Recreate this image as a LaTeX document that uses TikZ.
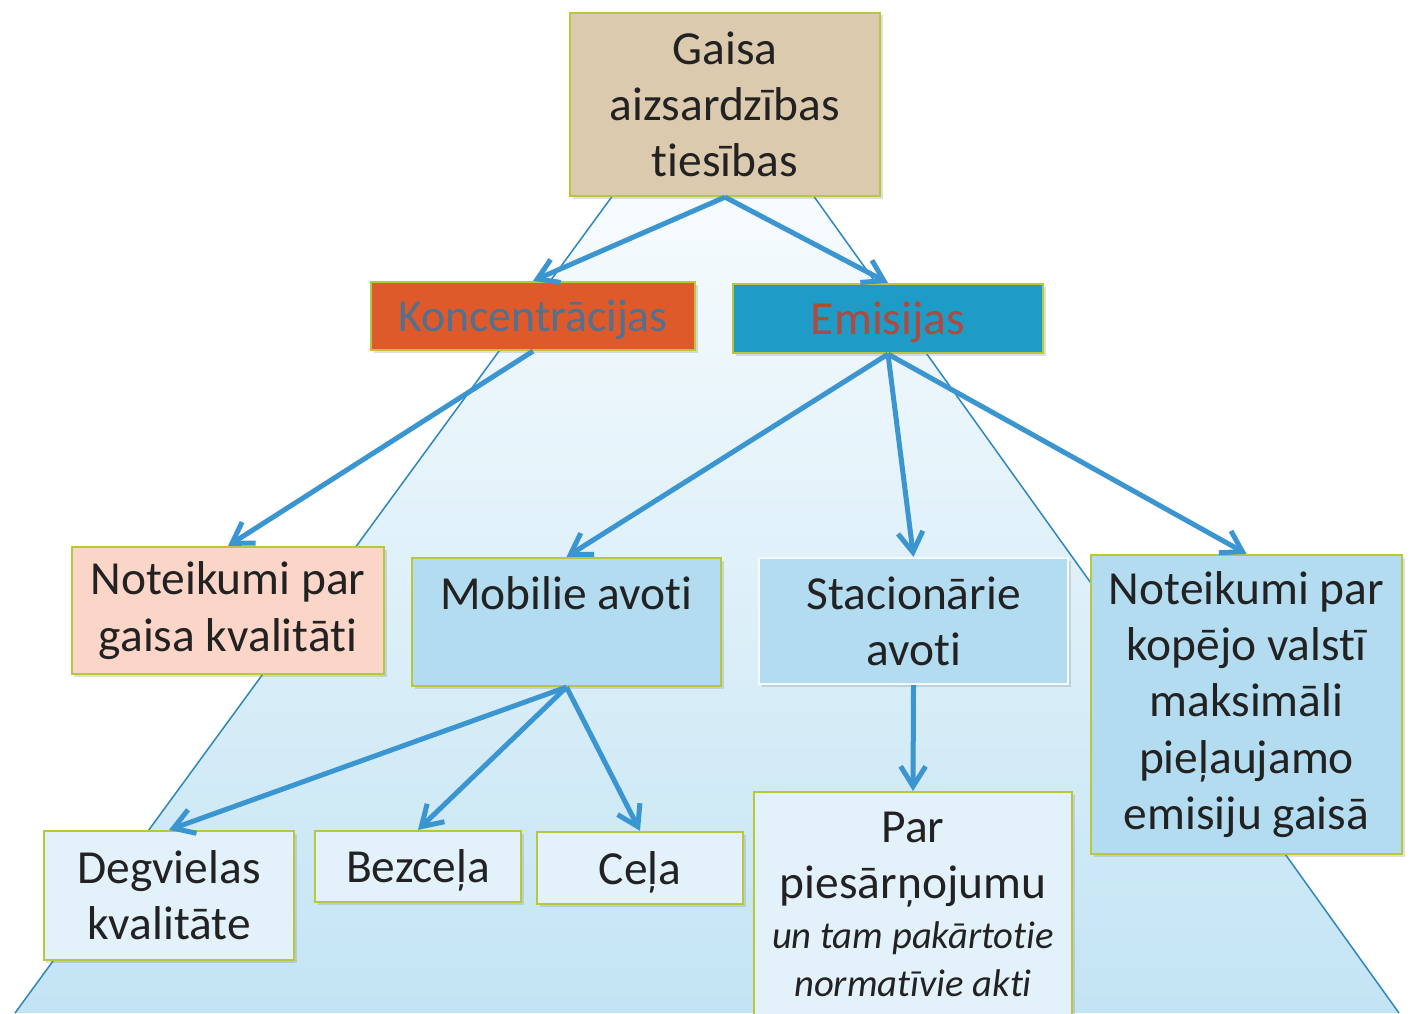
\documentclass[tikz,border=0pt]{standalone}
\usepackage{fontspec}
\setmainfont{Carlito}[Ligatures=NoCommon]
\usetikzlibrary{arrows.meta, shadows}
\definecolor{airText}{HTML}{222222}
\definecolor{airTan}{HTML}{DCCAAF}
\definecolor{airLime}{HTML}{B9C83A}
\definecolor{airOrange}{HTML}{DF5A2A}
\definecolor{airTeal}{HTML}{1E9BC6}
\definecolor{airSlate}{HTML}{52708F}
\definecolor{airBrick}{HTML}{AE4A3E}
\definecolor{airPeach}{HTML}{FBD6C8}
\definecolor{airBlue}{HTML}{B3DCF0}
\definecolor{airPale}{HTML}{E3F2FA}
\definecolor{airSky}{HTML}{C3E4F4}
\definecolor{airArrow}{HTML}{3A95D0}
\definecolor{airLine}{HTML}{2E86C1}

\begin{document}
\begin{tikzpicture}[
		x=0.2mm, y=-0.2mm,
		every node/.style={font=\fontsize{27}{32}\selectfont, text=airText},
		box/.style={draw=airLime, line width=0.45mm, fill=airPale, align=center, inner sep=0pt, drop shadow={shadow xshift=0.5mm, shadow yshift=-0.5mm, opacity=0.25}},
		oneline/.style={text depth=0pt},
		arrow/.style={-{Straight Barb[length=4mm, width=5mm]}, line width=1mm, draw=airArrow}
	]
		\clip (0,0) rectangle (1414,1013);
		% pyramid behind the boxes
		\shade[top color=white, bottom color=airSky] (714,57) -- (15,1013) -- (1399,1013) -- cycle;
		\draw[airLine, line width=0.3mm] (15,1013) -- (714,57) -- (1399,1013);

		\node[box, fill=airTan, minimum width=62mm, minimum height=36.6mm] (law) at (725,104.5) {Gaisa\\aizsardzības\\tiesības};
		\node[box, oneline, fill=airOrange, text=airSlate, font=\fontsize{26}{32}\selectfont, minimum width=64.8mm, minimum height=13.6mm] (conc) at (533,316) {Koncentrācijas};
		\node[box, oneline, fill=airTeal, text=airBrick, minimum width=62mm, minimum height=13.8mm] (emis) at (888,318.5) {Emisijas};

		\node[box, fill=airPeach, minimum width=62.4mm, minimum height=25.4mm] (quality) at (228,610.5) {Noteikumi par\\gaisa kvalitāti};
		\node[box, fill=airBlue, minimum width=61.8mm, minimum height=25.6mm] (mobile) at (566.5,622) {Mobilie avoti\\[-3.2mm]\strut};
		\node[box, fill=airBlue, draw=white!85!airBlue, minimum width=61.8mm, minimum height=25.2mm] (fixed) at (913.5,621) {Stacionārie\\avoti};
		\node[box, fill=airBlue, minimum width=62.2mm, minimum height=59.8mm] (ceiling) at (1246.5,704.5) {Noteikumi par\\kopējo valstī\\maksimāli\\pieļaujamo\\emisiju gaisā};

		\node[box, minimum width=50mm, minimum height=25.8mm] (fuel) at (169,895.5) {Degvielas\\kvalitāte};
		\node[box, oneline, minimum width=41.2mm, minimum height=14.2mm] (offroad) at (418,866.5) {Bezceļa};
		\node[box, oneline, minimum width=41.2mm, minimum height=14.4mm] (road) at (640,868) {Ceļa};
		\node[box, anchor=north, minimum width=63.6mm, inner ysep=4mm] (pollution) at (913,791) {Par\\piesārņojumu\\[-3.5pt]{\fontsize{22}{27}\selectfont\itshape un tam pakārtotie}\\[-5pt]{\fontsize{22}{27}\selectfont\itshape normatīvie akti}\\[8mm]};

		\draw[arrow] (law.south) -- (conc.north);
		\draw[arrow] (law.south) -- (emis.north);
		\draw[arrow] (conc.south) -- (quality.north);
		\draw[arrow] (emis.south) -- (mobile.north);
		\draw[arrow] (emis.south) -- (fixed.north);
		\draw[arrow] (emis.south) -- (ceiling.north);
		\draw[arrow] (mobile.south) -- (fuel.north);
		\draw[arrow] (mobile.south) -- (offroad.north);
		\draw[arrow] (mobile.south) -- (road.north);
		\draw[arrow] (fixed.south) -- (pollution.north);
	\end{tikzpicture}
\end{document}
